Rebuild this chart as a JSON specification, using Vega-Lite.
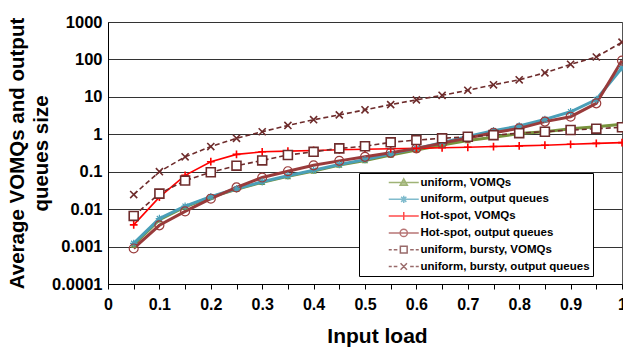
{
  "$schema": "https://vega.github.io/schema/vega-lite/v6.json",
  "width": 514,
  "height": 262,
  "autosize": {"type": "none"},
  "padding": {"left": 108, "top": 22, "right": 1, "bottom": 65},
  "background": "white",
  "config": {
    "font": "Liberation Sans",
    "view": {"stroke": "#555555", "strokeWidth": 1},
    "axis": {"labelFont": "Liberation Sans", "titleFont": "Liberation Sans", "labelFontWeight": "bold", "titleFontWeight": "bold", "labelColor": "black", "titleColor": "black"}
  },
  "datasets": {
    "pts": [
      {"x": 0.05, "y": 0.0011, "s": "uniform, VOMQs"},
      {"x": 0.1, "y": 0.0052, "s": "uniform, VOMQs"},
      {"x": 0.15, "y": 0.0115, "s": "uniform, VOMQs"},
      {"x": 0.2, "y": 0.021, "s": "uniform, VOMQs"},
      {"x": 0.25, "y": 0.034, "s": "uniform, VOMQs"},
      {"x": 0.3, "y": 0.052, "s": "uniform, VOMQs"},
      {"x": 0.35, "y": 0.075, "s": "uniform, VOMQs"},
      {"x": 0.4, "y": 0.105, "s": "uniform, VOMQs"},
      {"x": 0.45, "y": 0.15, "s": "uniform, VOMQs"},
      {"x": 0.5, "y": 0.2, "s": "uniform, VOMQs"},
      {"x": 0.55, "y": 0.28, "s": "uniform, VOMQs"},
      {"x": 0.6, "y": 0.38, "s": "uniform, VOMQs"},
      {"x": 0.65, "y": 0.52, "s": "uniform, VOMQs"},
      {"x": 0.7, "y": 0.68, "s": "uniform, VOMQs"},
      {"x": 0.75, "y": 0.83, "s": "uniform, VOMQs"},
      {"x": 0.8, "y": 1.05, "s": "uniform, VOMQs"},
      {"x": 0.85, "y": 1.17, "s": "uniform, VOMQs"},
      {"x": 0.9, "y": 1.4, "s": "uniform, VOMQs"},
      {"x": 0.95, "y": 1.6, "s": "uniform, VOMQs"},
      {"x": 1.0, "y": 1.85, "s": "uniform, VOMQs"},

      {"x": 0.05, "y": 0.00122, "s": "uniform, output queues"},
      {"x": 0.1, "y": 0.0056, "s": "uniform, output queues"},
      {"x": 0.15, "y": 0.012, "s": "uniform, output queues"},
      {"x": 0.2, "y": 0.0215, "s": "uniform, output queues"},
      {"x": 0.25, "y": 0.035, "s": "uniform, output queues"},
      {"x": 0.3, "y": 0.054, "s": "uniform, output queues"},
      {"x": 0.35, "y": 0.078, "s": "uniform, output queues"},
      {"x": 0.4, "y": 0.11, "s": "uniform, output queues"},
      {"x": 0.45, "y": 0.155, "s": "uniform, output queues"},
      {"x": 0.5, "y": 0.21, "s": "uniform, output queues"},
      {"x": 0.55, "y": 0.3, "s": "uniform, output queues"},
      {"x": 0.6, "y": 0.42, "s": "uniform, output queues"},
      {"x": 0.65, "y": 0.6, "s": "uniform, output queues"},
      {"x": 0.7, "y": 0.88, "s": "uniform, output queues"},
      {"x": 0.75, "y": 1.25, "s": "uniform, output queues"},
      {"x": 0.8, "y": 1.66, "s": "uniform, output queues"},
      {"x": 0.85, "y": 2.5, "s": "uniform, output queues"},
      {"x": 0.9, "y": 4.0, "s": "uniform, output queues"},
      {"x": 0.95, "y": 8.5, "s": "uniform, output queues"},
      {"x": 1.0, "y": 60, "s": "uniform, output queues"},

      {"x": 0.05, "y": 0.0038, "s": "Hot-spot,  VOMQs"},
      {"x": 0.1, "y": 0.021, "s": "Hot-spot,  VOMQs"},
      {"x": 0.15, "y": 0.08, "s": "Hot-spot,  VOMQs"},
      {"x": 0.2, "y": 0.185, "s": "Hot-spot,  VOMQs"},
      {"x": 0.25, "y": 0.29, "s": "Hot-spot,  VOMQs"},
      {"x": 0.3, "y": 0.34, "s": "Hot-spot,  VOMQs"},
      {"x": 0.35, "y": 0.355, "s": "Hot-spot,  VOMQs"},
      {"x": 0.4, "y": 0.37, "s": "Hot-spot,  VOMQs"},
      {"x": 0.45, "y": 0.385, "s": "Hot-spot,  VOMQs"},
      {"x": 0.5, "y": 0.4, "s": "Hot-spot,  VOMQs"},
      {"x": 0.55, "y": 0.41, "s": "Hot-spot,  VOMQs"},
      {"x": 0.6, "y": 0.42, "s": "Hot-spot,  VOMQs"},
      {"x": 0.65, "y": 0.435, "s": "Hot-spot,  VOMQs"},
      {"x": 0.7, "y": 0.45, "s": "Hot-spot,  VOMQs"},
      {"x": 0.75, "y": 0.47, "s": "Hot-spot,  VOMQs"},
      {"x": 0.8, "y": 0.49, "s": "Hot-spot,  VOMQs"},
      {"x": 0.85, "y": 0.51, "s": "Hot-spot,  VOMQs"},
      {"x": 0.9, "y": 0.54, "s": "Hot-spot,  VOMQs"},
      {"x": 0.95, "y": 0.57, "s": "Hot-spot,  VOMQs"},
      {"x": 1.0, "y": 0.6, "s": "Hot-spot,  VOMQs"},

      {"x": 0.05, "y": 0.00089, "s": "Hot-spot, output queues"},
      {"x": 0.1, "y": 0.0037, "s": "Hot-spot, output queues"},
      {"x": 0.15, "y": 0.0087, "s": "Hot-spot, output queues"},
      {"x": 0.2, "y": 0.019, "s": "Hot-spot, output queues"},
      {"x": 0.25, "y": 0.038, "s": "Hot-spot, output queues"},
      {"x": 0.3, "y": 0.07, "s": "Hot-spot, output queues"},
      {"x": 0.35, "y": 0.103, "s": "Hot-spot, output queues"},
      {"x": 0.4, "y": 0.148, "s": "Hot-spot, output queues"},
      {"x": 0.45, "y": 0.195, "s": "Hot-spot, output queues"},
      {"x": 0.5, "y": 0.25, "s": "Hot-spot, output queues"},
      {"x": 0.55, "y": 0.32, "s": "Hot-spot, output queues"},
      {"x": 0.6, "y": 0.42, "s": "Hot-spot, output queues"},
      {"x": 0.65, "y": 0.58, "s": "Hot-spot, output queues"},
      {"x": 0.7, "y": 0.8, "s": "Hot-spot, output queues"},
      {"x": 0.75, "y": 1.1, "s": "Hot-spot, output queues"},
      {"x": 0.8, "y": 1.44, "s": "Hot-spot, output queues"},
      {"x": 0.85, "y": 2.18, "s": "Hot-spot, output queues"},
      {"x": 0.9, "y": 2.95, "s": "Hot-spot, output queues"},
      {"x": 0.95, "y": 6.7, "s": "Hot-spot, output queues"},
      {"x": 1.0, "y": 93, "s": "Hot-spot, output queues"},

      {"x": 0.05, "y": 0.0066, "s": "uniform, bursty, VOMQs"},
      {"x": 0.1, "y": 0.026, "s": "uniform, bursty, VOMQs"},
      {"x": 0.15, "y": 0.058, "s": "uniform, bursty, VOMQs"},
      {"x": 0.2, "y": 0.097, "s": "uniform, bursty, VOMQs"},
      {"x": 0.25, "y": 0.145, "s": "uniform, bursty, VOMQs"},
      {"x": 0.3, "y": 0.2, "s": "uniform, bursty, VOMQs"},
      {"x": 0.35, "y": 0.28, "s": "uniform, bursty, VOMQs"},
      {"x": 0.4, "y": 0.34, "s": "uniform, bursty, VOMQs"},
      {"x": 0.45, "y": 0.42, "s": "uniform, bursty, VOMQs"},
      {"x": 0.5, "y": 0.48, "s": "uniform, bursty, VOMQs"},
      {"x": 0.55, "y": 0.61, "s": "uniform, bursty, VOMQs"},
      {"x": 0.6, "y": 0.7, "s": "uniform, bursty, VOMQs"},
      {"x": 0.65, "y": 0.78, "s": "uniform, bursty, VOMQs"},
      {"x": 0.7, "y": 0.86, "s": "uniform, bursty, VOMQs"},
      {"x": 0.75, "y": 0.95, "s": "uniform, bursty, VOMQs"},
      {"x": 0.8, "y": 1.07, "s": "uniform, bursty, VOMQs"},
      {"x": 0.85, "y": 1.17, "s": "uniform, bursty, VOMQs"},
      {"x": 0.9, "y": 1.3, "s": "uniform, bursty, VOMQs"},
      {"x": 0.95, "y": 1.41, "s": "uniform, bursty, VOMQs"},
      {"x": 1.0, "y": 1.54, "s": "uniform, bursty, VOMQs"},

      {"x": 0.05, "y": 0.0245, "s": "uniform, bursty, output queues"},
      {"x": 0.1, "y": 0.1, "s": "uniform, bursty, output queues"},
      {"x": 0.15, "y": 0.25, "s": "uniform, bursty, output queues"},
      {"x": 0.2, "y": 0.47, "s": "uniform, bursty, output queues"},
      {"x": 0.25, "y": 0.78, "s": "uniform, bursty, output queues"},
      {"x": 0.3, "y": 1.17, "s": "uniform, bursty, output queues"},
      {"x": 0.35, "y": 1.72, "s": "uniform, bursty, output queues"},
      {"x": 0.4, "y": 2.45, "s": "uniform, bursty, output queues"},
      {"x": 0.45, "y": 3.3, "s": "uniform, bursty, output queues"},
      {"x": 0.5, "y": 4.5, "s": "uniform, bursty, output queues"},
      {"x": 0.55, "y": 6.2, "s": "uniform, bursty, output queues"},
      {"x": 0.6, "y": 8.3, "s": "uniform, bursty, output queues"},
      {"x": 0.65, "y": 11, "s": "uniform, bursty, output queues"},
      {"x": 0.7, "y": 15, "s": "uniform, bursty, output queues"},
      {"x": 0.75, "y": 21, "s": "uniform, bursty, output queues"},
      {"x": 0.8, "y": 28.5, "s": "uniform, bursty, output queues"},
      {"x": 0.85, "y": 44, "s": "uniform, bursty, output queues"},
      {"x": 0.9, "y": 74, "s": "uniform, bursty, output queues"},
      {"x": 0.95, "y": 116, "s": "uniform, bursty, output queues"},
      {"x": 1.0, "y": 290, "s": "uniform, bursty, output queues"}
    ]
  },
  "data": {"name": "pts"},
  "encoding": {
    "x": {
      "field": "x", "type": "quantitative",
      "scale": {"domain": [0, 1], "nice": false},
      "axis": {
        "title": "Input load", "titleFontSize": 21, "titlePadding": 13, "titleX": 269,
        "values": [0, 0.05, 0.1, 0.15, 0.2, 0.25, 0.3, 0.35, 0.4, 0.45, 0.5, 0.55, 0.6, 0.65, 0.7, 0.75, 0.8, 0.85, 0.9, 0.95, 1],
        "labelExpr": "round(datum.value*100) % 10 == 0 ? format(datum.value, '~g') : ''",
        "labelFontSize": 16, "labelPadding": 7, "labelOverlap": false, "labelFlush": false,
        "tickSize": 5, "tickColor": "black", "domainColor": "black", "grid": false
      }
    },
    "y": {
      "field": "y", "type": "quantitative",
      "scale": {"type": "log", "domain": [0.0001, 1000], "nice": false},
      "axis": {
        "title": ["Average VOMQs and output", "queues size"], "titleFontSize": 20.5, "titleLineHeight": 24, "titlePadding": 0,
        "values": [0.0001, 0.001, 0.01, 0.1, 1, 10, 100, 1000],
        "labelExpr": "'' + datum.value",
        "labelFontSize": 16.5, "labelPadding": 6, "ticks": false,
        "grid": true, "gridColor": "#333333", "gridWidth": 1, "gridOpacity": 1,
        "domainColor": "black"
      }
    }
  },
  "layer": [
    {
      "transform": [{"filter": "datum.s == 'uniform, VOMQs'"}],
      "mark": {"type": "line", "strokeWidth": 3, "stroke": "#77933C"},
      "encoding": {}
    },
    {
      "transform": [{"filter": "datum.s == 'uniform, output queues'"}],
      "mark": {"type": "line", "strokeWidth": 3, "stroke": "#4A9FB8"},
      "encoding": {}
    },
    {
      "transform": [{"filter": "datum.s == 'Hot-spot,  VOMQs'"}],
      "mark": {"type": "line", "strokeWidth": 1.6, "stroke": "#FF0000"},
      "encoding": {}
    },
    {
      "transform": [{"filter": "datum.s == 'Hot-spot, output queues'"}],
      "mark": {"type": "line", "strokeWidth": 3, "stroke": "#993B3B"},
      "encoding": {}
    },
    {
      "transform": [{"filter": "indexof(datum.s, 'bursty') >= 0"}],
      "mark": {"type": "line", "strokeWidth": 1.6, "strokeDash": [5, 3], "stroke": "#6E2C2C"},
      "encoding": {"detail": {"field": "s", "type": "nominal"}}
    },
    {
      "transform": [{"filter": "datum.s == 'uniform, VOMQs'"}],
      "mark": {"type": "point", "shape": "triangle-up", "size": 40, "filled": true, "color": "#77933C", "opacity": 1}
    },
    {
      "transform": [{"filter": "datum.s == 'uniform, output queues'"}],
      "mark": {"type": "point", "shape": "M-1,0L1,0M0,-1L0,1M-0.7,-0.7L0.7,0.7M-0.7,0.7L0.7,-0.7", "size": 55, "strokeWidth": 1.2, "color": "#4A9FB8", "opacity": 1}
    },
    {
      "transform": [{"filter": "datum.s == 'Hot-spot,  VOMQs'"}],
      "mark": {"type": "point", "shape": "M-1,0L1,0M0,-1L0,1", "size": 60, "strokeWidth": 1.6, "color": "#FF0000", "opacity": 1}
    },
    {
      "transform": [{"filter": "datum.s == 'Hot-spot, output queues'"}],
      "mark": {"type": "point", "shape": "circle", "size": 80, "strokeWidth": 1.2, "color": "#993B3B", "opacity": 1}
    },
    {
      "transform": [{"filter": "datum.s == 'uniform, bursty, VOMQs'"}],
      "mark": {"type": "point", "shape": "square", "size": 80, "strokeWidth": 1.6, "stroke": "#6E2C2C", "fill": "white", "fillOpacity": 1, "opacity": 1}
    },
    {
      "transform": [{"filter": "datum.s == 'uniform, bursty, output queues'"}],
      "mark": {"type": "point", "shape": "M-1,-1L1,1M-1,1L1,-1", "size": 50, "strokeWidth": 1.6, "color": "#6E2C2C", "opacity": 1}
    },
    {
      "transform": [{"filter": "false"}],
      "mark": {"type": "point", "strokeWidth": 1.8, "size": 64},
      "encoding": {
        "stroke": {
          "field": "s", "type": "nominal",
          "scale": {"domain": ["uniform, VOMQs", "uniform, output queues", "Hot-spot,  VOMQs", "Hot-spot, output queues", "uniform, bursty, VOMQs", "uniform, bursty, output queues"],
                    "range": ["#77933C", "#4A9FB8", "#FF0000", "#993B3B", "#6E2C2C", "#6E2C2C"]},
          "legend": {
            "title": null, "orient": "none", "legendX": 251, "legendY": 151,
            "labelFont": "Liberation Sans", "labelFontWeight": "bold", "labelFontSize": 11.5, "labelColor": "black", "labelLimit": 400,
            "symbolSize": 64, "symbolOffset": 36, "labelOffset": 11, "rowPadding": 3.8,
            "gridAlign": "all", "clipHeight": 13,
            "padding": 3, "strokeColor": "black", "fillColor": "white"
          }
        },
        "fill": {
          "field": "s", "type": "nominal",
          "scale": {"domain": ["uniform, VOMQs", "uniform, output queues", "Hot-spot,  VOMQs", "Hot-spot, output queues", "uniform, bursty, VOMQs", "uniform, bursty, output queues"],
                    "range": ["#77933C", "transparent", "transparent", "transparent", "white", "transparent"]}
        },
        "shape": {
          "field": "s", "type": "nominal",
          "scale": {"domain": ["uniform, VOMQs", "uniform, output queues", "Hot-spot,  VOMQs", "Hot-spot, output queues", "uniform, bursty, VOMQs", "uniform, bursty, output queues"],
                    "range": [
                      "M-3.75,0L3.75,0M0,-0.9L0.9,0.7L-0.9,0.7Z",
                      "M-3.75,0L3.75,0M0,-0.9L0,0.9M-0.65,-0.65L0.65,0.65M-0.65,0.65L0.65,-0.65",
                      "M-3.75,0L3.75,0M0,-1L0,1",
                      "M-3.75,0L3.75,0M-0.9,0A0.9,0.9 0 1,0 0.9,0A0.9,0.9 0 1,0 -0.9,0",
                      "M-3.75,0L-3,0M-2.5,0L-1.6,0M-0.85,-0.85L0.85,-0.85L0.85,0.85L-0.85,0.85ZM1.6,0L2.5,0M3,0L3.75,0",
                      "M-3.75,0L-3,0M-2.5,0L-1.6,0M-0.8,-0.8L0.8,0.8M-0.8,0.8L0.8,-0.8M1.6,0L2.5,0M3,0L3.75,0"
                    ]}
        }
      }
    }
  ]
}
